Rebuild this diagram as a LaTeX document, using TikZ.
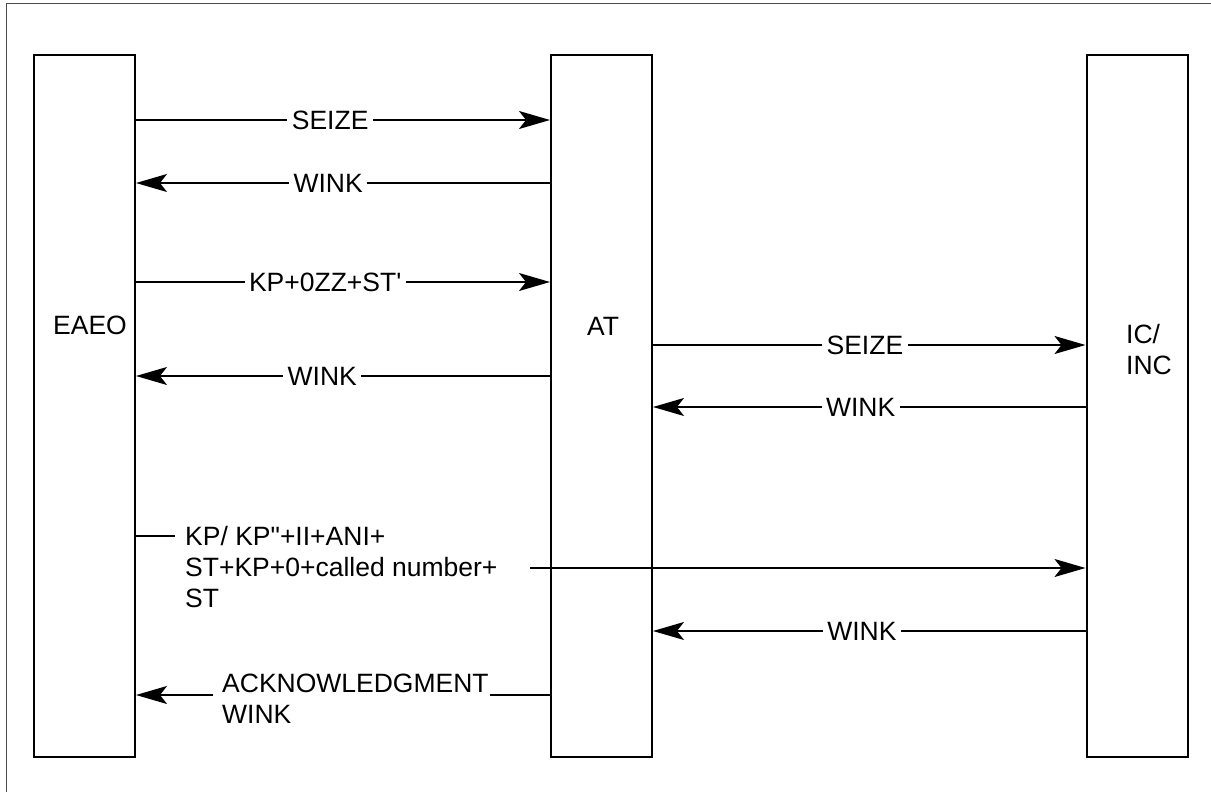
\documentclass[tikz,border=0pt]{standalone}
\usepackage{fontspec}
\setmainfont{Liberation Sans}
\usetikzlibrary{arrows.meta,calc}
\begin{document}
\begin{tikzpicture}[x=1pt,y=-1pt,
 box/.style={draw, line width=2pt, minimum width=101pt, minimum height=702pt, inner sep=0pt},
 ntext/.style={font=\fontsize{26.5}{31}\selectfont, inner sep=0pt, align=left},
 msg/.style={line width=1.5pt, -{Stealth[length=31pt,width=18pt,inset=7pt]}},
 plain/.style={line width=1.5pt},
 lbl/.style={fill=white, inner xsep=4.5pt, inner ysep=0pt, font=\fontsize{26.5}{31}\selectfont},
 frame/.style={line width=1pt, draw=black!70}]
\useasboundingbox (0,0) rectangle (1211,792);
\draw[frame] (6,792) -- (6,4) -- (1211,4);
% lifeline boxes
\node[box] (eaeo) at (84.5,406) {};
\node[box] (at) at (601.5,406) {};
\node[box] (ic) at (1137,406) {};
\node[ntext, anchor=west] (eaeot) at (53,325) {EAEO};
\node[ntext] (att) at (603,326) {AT};
\node[ntext, anchor=west] (ict) at (1126,350) {IC/\\INC};
% messages EAEO <-> AT
\draw[msg] (eaeo.east |- 0,120) -- node[lbl,pos=0.469]{SEIZE} (at.west |- 0,120);
\draw[msg] (at.west |- 0,183) -- node[lbl,pos=0.536]{WINK} (eaeo.east |- 0,183);
\draw[msg] (eaeo.east |- 0,282) -- node[lbl,pos=0.457]{KP+0ZZ+ST\textquotesingle} (at.west |- 0,282);
\draw[msg] (at.west |- 0,376) -- node[lbl,pos=0.55]{WINK} (eaeo.east |- 0,376);
% messages AT <-> IC
\draw[msg] (at.east |- 0,345) -- node[lbl,pos=0.49]{SEIZE} (ic.west |- 0,345);
\draw[msg] (ic.west |- 0,407) -- node[lbl,pos=0.52]{WINK} (at.east |- 0,407);
\draw[msg] (ic.west |- 0,631) -- node[lbl,pos=0.517]{WINK} (at.east |- 0,631);
% KP block
\node[ntext, anchor=north west] (kp) at (185,526.5) {KP/ KP\textquotedbl+II+ANI+\\ST+KP+0+called number+\\ST};
\coordinate (kpa) at (175,536);
\draw[plain] (eaeo.east |- kpa) -- (kpa);
\coordinate (kpb) at (530,568);
\draw[msg] (kpb) -- (ic.west |- kpb);
% acknowledgment wink
\node[ntext, anchor=north west] (ack) at (222,673.5) {ACKNOWLEDGMENT\\WINK};
\coordinate (ackl) at (213,695);
\coordinate (ackr) at (490,695);
\draw[plain] (at.west |- ackr) -- (ackr);
\draw[msg] (ackl) -- (eaeo.east |- ackl);
\end{tikzpicture}
\end{document}
